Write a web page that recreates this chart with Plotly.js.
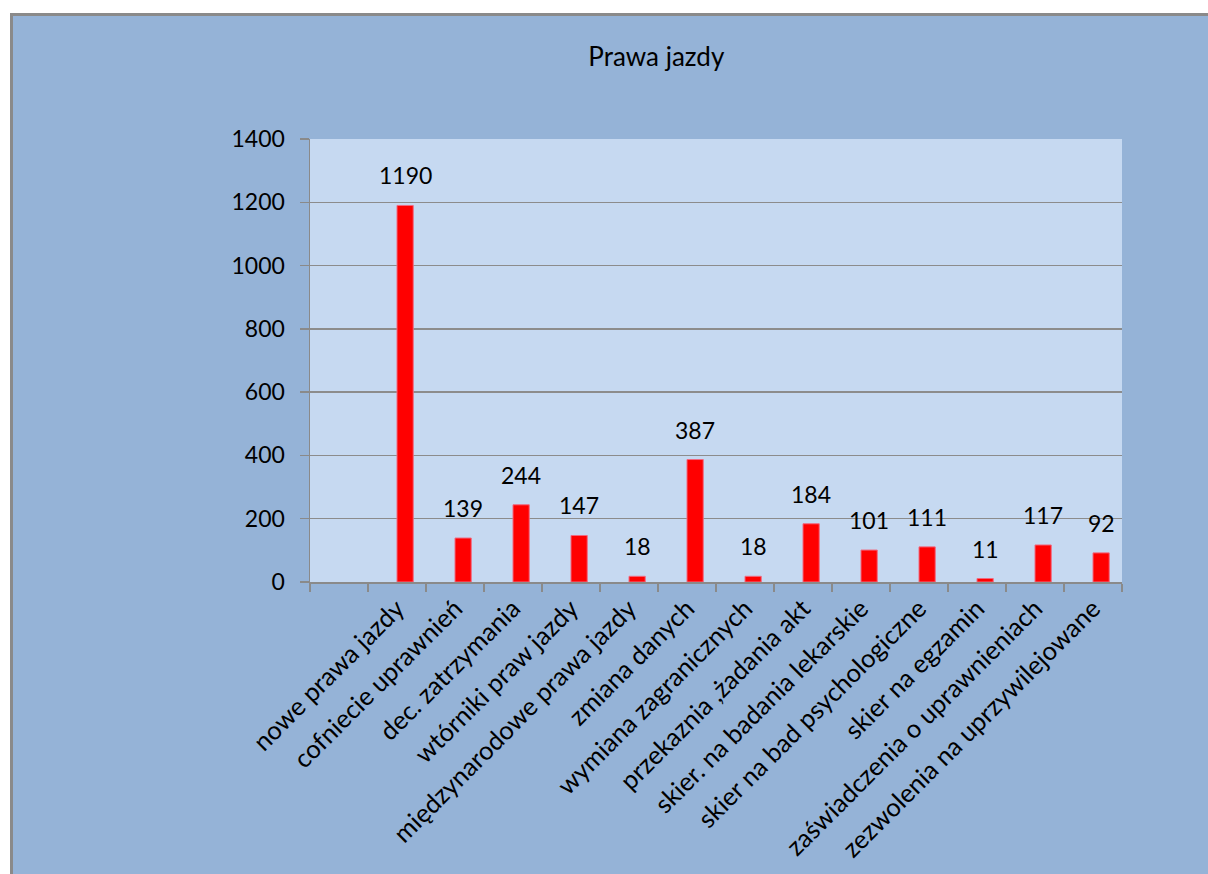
<!DOCTYPE html>
<html>
<head>
<meta charset="utf-8">
<script src="https://cdn.plot.ly/plotly-3.0.1.min.js"></script>
<style>
  html, body { margin: 0; padding: 0; background: #ffffff; overflow: hidden; width: 1208px; height: 874px; }
  #chart { position: absolute; left: 10px; top: 13px; width: 1198px; height: 861px;
           border-left: 3px solid #8a8a8a; border-top: 3px solid #8a8a8a; }
</style>
</head>
<body>
<div id="chart"></div>
<script>
const categories = [
  " ",
  "nowe prawa jazdy",
  "cofniecie uprawnień",
  "dec. zatrzymania",
  "wtórniki praw jazdy",
  "międzynarodowe prawa jazdy",
  "zmiana danych",
  "wymiana zagranicznych",
  "przekaznia ,żadania akt",
  "skier. na badania lekarskie",
  "skier na bad psychologiczne",
  "skier na egzamin",
  "zaświadczenia o uprawnieniach",
  "zezwolenia na uprzywilejowane"
];
const barCategories = categories.slice(1);
const values = [1190, 139, 244, 147, 18, 387, 18, 184, 101, 111, 11, 117, 92];
const yTicks = [0, 200, 400, 600, 800, 1000, 1200, 1400];

const FONT = "Lato, 'Open Sans', sans-serif";

const trace = {
  type: "bar",
  x: barCategories,
  y: values,
  marker: { color: "#ff0000", line: { color: "#f06a80", width: 1 } },
  offset: 0,
  width: 0.28,
  hoverinfo: "x+y"
};

const annotations = barCategories.map((c, i) => ({
  x: c, y: values[i], xref: "x", yref: "y",
  text: String(values[i]),
  showarrow: false,
  xanchor: "center", yanchor: "bottom",
  xshift: 8, yshift: 14,
  font: { family: FONT, size: 23, color: "#000000" }
}));

const layout = {
  width: 1198, height: 861,
  paper_bgcolor: "#95b3d7",
  plot_bgcolor: "#c6d9f1",
  margin: { l: 297, r: 89, t: 123, b: 295 },
  showlegend: false,
  title: { text: "Prawa jazdy", font: { family: FONT, size: 26, color: "#000000" },
           x: 0.537, xanchor: "center", y: 0.952, yanchor: "middle" },
  xaxis: {
    type: "category",
    categoryorder: "array",
    categoryarray: categories,
    range: [-0.5, 13.5],
    tickmode: "array",
    tickvals: categories,
    ticktext: categories,
    tickangle: -45,
    ticks: "outside",
    tickson: "boundaries",
    ticklen: 8,
    tickcolor: "#8a8a8a",
    tickwidth: 1.5,
    showline: true,
    linecolor: "#8a8a8a",
    linewidth: 1.5,
    showgrid: false,
    tickfont: { family: FONT, size: 25.5, color: "#000000" },
    fixedrange: true
  },
  yaxis: {
    range: [0, 1400],
    tickmode: "array",
    tickvals: yTicks,
    ticks: "outside",
    ticklen: 9,
    tickcolor: "#8a8a8a",
    tickwidth: 1.5,
    showline: true,
    linecolor: "#8a8a8a",
    linewidth: 1.5,
    showgrid: true,
    gridcolor: "#8c8c8c",
    gridwidth: 1.5,
    zeroline: false,
    ticklabelstandoff: 10,
    tickfont: { family: FONT, size: 23, color: "#000000" },
    fixedrange: true
  },
  annotations: annotations
};

Plotly.newPlot("chart", [trace], layout, { displayModeBar: false, staticPlot: true });
</script>
</body>
</html>
